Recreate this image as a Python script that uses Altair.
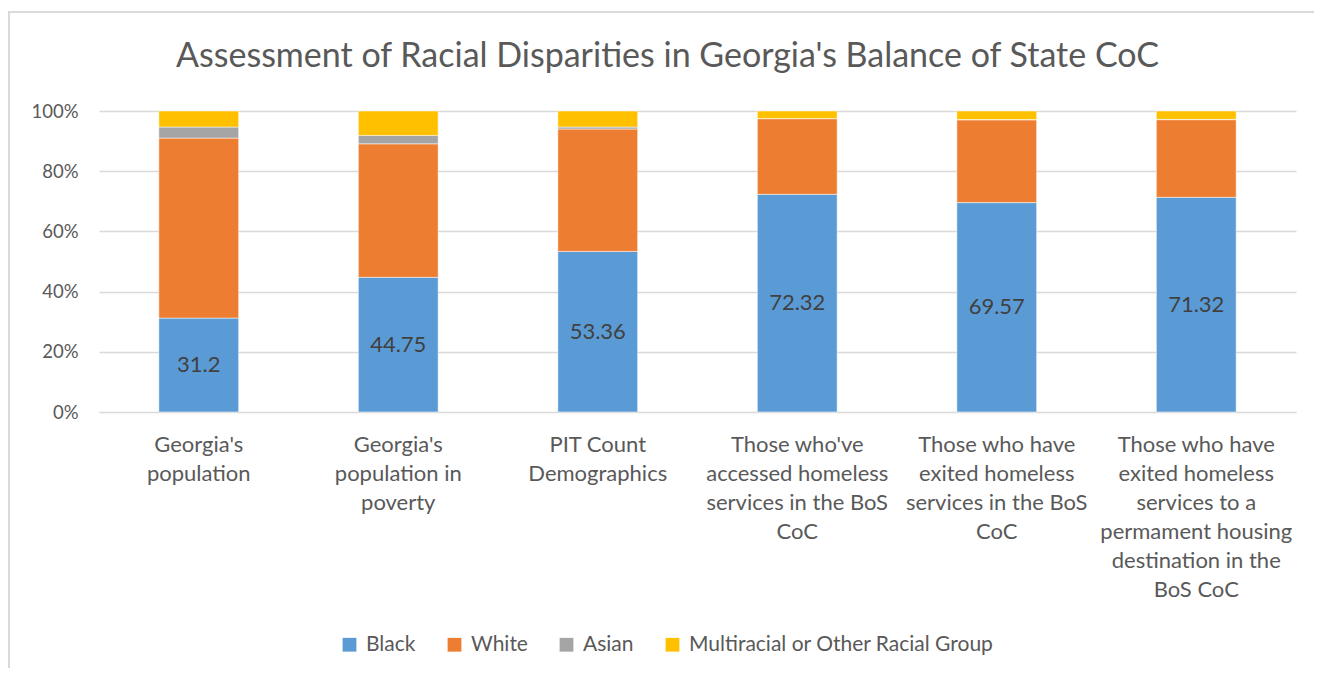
import altair as alt
import pandas as pd

categories = [
    "Georgia's\npopulation",
    "Georgia's\npopulation in\npoverty",
    "PIT Count\nDemographics",
    "Those who've\naccessed homeless\nservices in the BoS\nCoC",
    "Those who have\nexited homeless\nservices in the BoS\nCoC",
    "Those who have\nexited homeless\nservices to a\npermament housing\ndestination in the\nBoS CoC",
]
groups = ["Black", "White", "Asian", "Multiracial or Other Racial Group"]
colors = ["#5B9BD5", "#ED7D31", "#A5A5A5", "#FFC000"]

black = [31.2, 44.75, 53.36, 72.32, 69.57, 71.32]
white = [59.8, 44.35, 40.64, 25.12, 27.5, 25.8]
asian = [3.67, 2.8, 0.67, 0.1, 0.1, 0.1]
multi = [5.33, 8.1, 5.33, 2.46, 2.83, 2.78]
black_labels = ["31.2", "44.75", "53.36", "72.32", "69.57", "71.32"]

rows = []
for i, c in enumerate(categories):
    for j, (g, vals) in enumerate(zip(groups, [black, white, asian, multi])):
        rows.append({"category": c, "group": g, "value": vals[i], "order": j,
                     "label": black_labels[i] if g == "Black" else ""})
df = pd.DataFrame(rows)

FONT = "Lato"
GREY = "#595959"

x = alt.X("category:N", sort=categories,
          scale=alt.Scale(paddingInner=0.6, paddingOuter=0.3),
          axis=alt.Axis(title=None, labelAngle=0, labelExpr="split(datum.label, '\\n')",
                        labelLimit=0, labelOverlap=False, labelBound=False,
                        labelFontSize=22, labelColor=GREY, labelFont=FONT,
                        labelLineHeight=29, labelPadding=22, labelBaseline="top",
                        ticks=False, domain=True, domainColor="#d9d9d9", grid=False))

bars = alt.Chart(df).mark_bar(stroke="white", strokeWidth=0.5).encode(
    x=x,
    y=alt.Y("value:Q", stack="normalize",
            scale=alt.Scale(domain=[0, 1], nice=False),
            axis=alt.Axis(title=None, format=".0%", values=[i / 10 for i in range(11)],
                          labelFontSize=18.5, labelColor=GREY, labelFont=FONT,
                          labelOverlap=False, labelBound=False,
                          labelPadding=21, ticks=False, domain=False,
                          gridColor="#d9d9d9", gridWidth=1.3)),
    color=alt.Color("group:N", scale=alt.Scale(domain=groups, range=colors),
                    legend=alt.Legend(title=None, orient="none", legendX=240, legendY=523,
                                      direction="horizontal", columns=4,
                                      symbolType="square", symbolSize=190,
                                      symbolStrokeWidth=0, labelFontSize=21,
                                      labelColor=GREY, labelFont=FONT, labelLimit=0,
                                      columnPadding=28, labelOffset=6)),
    order=alt.Order("order:Q"),
)

text = alt.Chart(df).transform_joinaggregate(
    total="sum(value)", groupby=["category"]
).transform_filter(
    alt.datum.group == "Black"
).transform_calculate(
    mid="datum.value / datum.total / 2"
).mark_text(fontSize=22, font=FONT, color="#404040").encode(
    x=alt.X("category:N", sort=categories),
    y=alt.Y("mid:Q"),
    text="label:N",
)

frame_df = pd.DataFrame({"a": [0]})
border_left = alt.Chart(frame_df).mark_rect(fill="#d9d9d9", strokeWidth=0).encode(
    x=alt.value(-91), x2=alt.value(-89), y=alt.value(-100), y2=alt.value(557))
border_top = alt.Chart(frame_df).mark_rect(fill="#d9d9d9", strokeWidth=0).encode(
    x=alt.value(-91), x2=alt.value(1215), y=alt.value(-100), y2=alt.value(-98))

chart = alt.layer(bars, text, border_left, border_top).properties(
    width=1197, height=301,
    title=alt.TitleParams("Assessment of Racial Disparities in Georgia's Balance of State CoC",
                          fontSize=34, font=FONT, color=GREY, fontWeight="normal",
                          anchor="middle", frame="group", dx=-30, baseline="alphabetic",
                          offset=-90),
    autosize=alt.AutoSizeParams(type="none"),
    padding={"left": 91, "top": 103, "right": 19, "bottom": 257},
).configure_view(stroke=None)

chart.save("out.html", embed_options={"renderer": "svg", "actions": False})
